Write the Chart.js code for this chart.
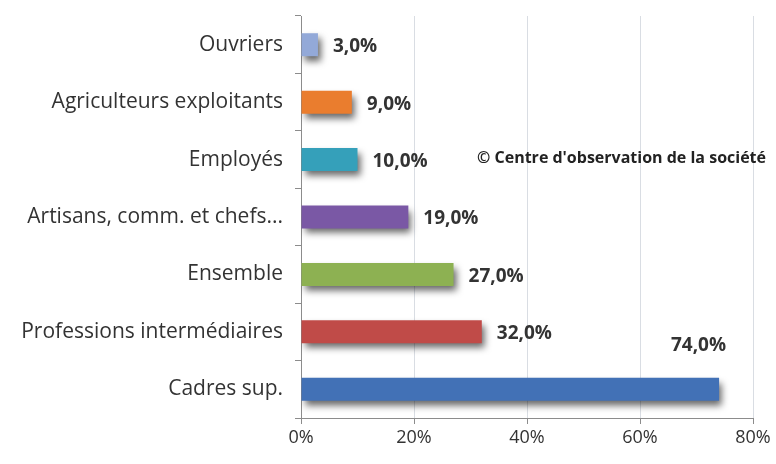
<!DOCTYPE html>
<html>
<head>
<meta charset="utf-8">
<script src="https://cdn.jsdelivr.net/npm/chart.js@4/dist/chart.umd.min.js"></script>
<style>
  html, body { margin: 0; padding: 0; background: #fff; }
  #wrap { width: 776px; height: 464px; }
</style>
</head>
<body>
<div id="wrap"><canvas id="chart" width="776" height="464"></canvas></div>
<script>
// Data
const categories = ["Ouvriers", "Agriculteurs exploitants", "Employés", "Artisans, comm. et chefs...", "Ensemble", "Professions intermédiaires", "Cadres sup."];
const values = [3, 9, 10, 19, 27, 32, 74];
const barColors = ["#93A9D8", "#EA7D2E", "#35A0BA", "#7A58A5", "#8DB152", "#C04B48", "#4271B6"];
const xTicks = [0, 20, 40, 60, 80];
const credit = "© Centre d'observation de la société";

// soft dark shadow under the bars, like the original 3D-ish look
const barShadow = {
  id: "barShadow",
  beforeDatasetsDraw(chart) {
    const ctx = chart.ctx;
    ctx.save();
    ctx.shadowColor = "rgba(0,0,0,0.6)";
    ctx.shadowBlur = 7;
    ctx.shadowOffsetX = 3;
    ctx.shadowOffsetY = 5;
  },
  afterDatasetsDraw(chart) {
    chart.ctx.restore();
  }
};

// value labels + credit line
const valueLabels = {
  id: "valueLabels",
  afterDraw(chart) {
    const ctx = chart.ctx;
    const meta = chart.getDatasetMeta(0);
    ctx.save();
    ctx.font = "bold 19px 'Open Sans', sans-serif";
    ctx.fillStyle = "#333";
    ctx.textBaseline = "middle";
    meta.data.forEach((bar, i) => {
      const txt = values[i].toFixed(1).replace(".", ",") + "%";
      if (i === values.length - 1) {
        // the big bar gets its label above it
        ctx.textAlign = "right";
        ctx.fillText(txt, bar.x + 7, bar.y - 44);
      } else {
        ctx.textAlign = "left";
        ctx.fillText(txt, bar.x + 15, bar.y + 2);
      }
    });
    ctx.font = "bold 16px 'Open Sans', sans-serif";
    ctx.textAlign = "right";
    ctx.fillStyle = "#222";
    ctx.fillText(credit, 766, 158);
    ctx.restore();
  }
};

const ctx = document.getElementById("chart").getContext("2d");
new Chart(ctx, {
  type: "bar",
  data: {
    labels: categories,
    datasets: [{
      data: values,
      backgroundColor: barColors,
      borderWidth: 0,
      barPercentage: 0.4,
      categoryPercentage: 1
    }]
  },
  options: {
    indexAxis: "y",
    responsive: false,
    animation: false,
    layout: { padding: { top: 16, right: 23, bottom: 0, left: 0 } },
    plugins: {
      legend: { display: false },
      tooltip: { enabled: false }
    },
    scales: {
      x: {
        min: 0,
        max: 80,
        afterBuildTicks: (axis) => { axis.ticks = xTicks.map(v => ({ value: v })); },
        afterFit: (axis) => { axis.height = 46; },
        ticks: {
          callback: (v) => v + "%",
          color: "#333",
          font: { size: 18, family: "'Open Sans', sans-serif" },
          padding: 3
        },
        grid: { color: "#d9dde3", tickLength: 6, tickColor: "#8c8c8c" },
        border: { color: "#8c8c8c" }
      },
      y: {
        afterFit: (axis) => {
          axis.width = 301;
          axis.paddingTop = 0;
          axis.paddingBottom = 0;
        },
        ticks: {
          color: "#333",
          font: { size: 21, family: "'Open Sans', sans-serif" },
          padding: 12
        },
        grid: { offset: true, drawOnChartArea: false, tickLength: 6, color: "#8c8c8c" },
        border: { color: "#8c8c8c" }
      }
    }
  },
  plugins: [barShadow, valueLabels]
});
</script>
</body>
</html>
